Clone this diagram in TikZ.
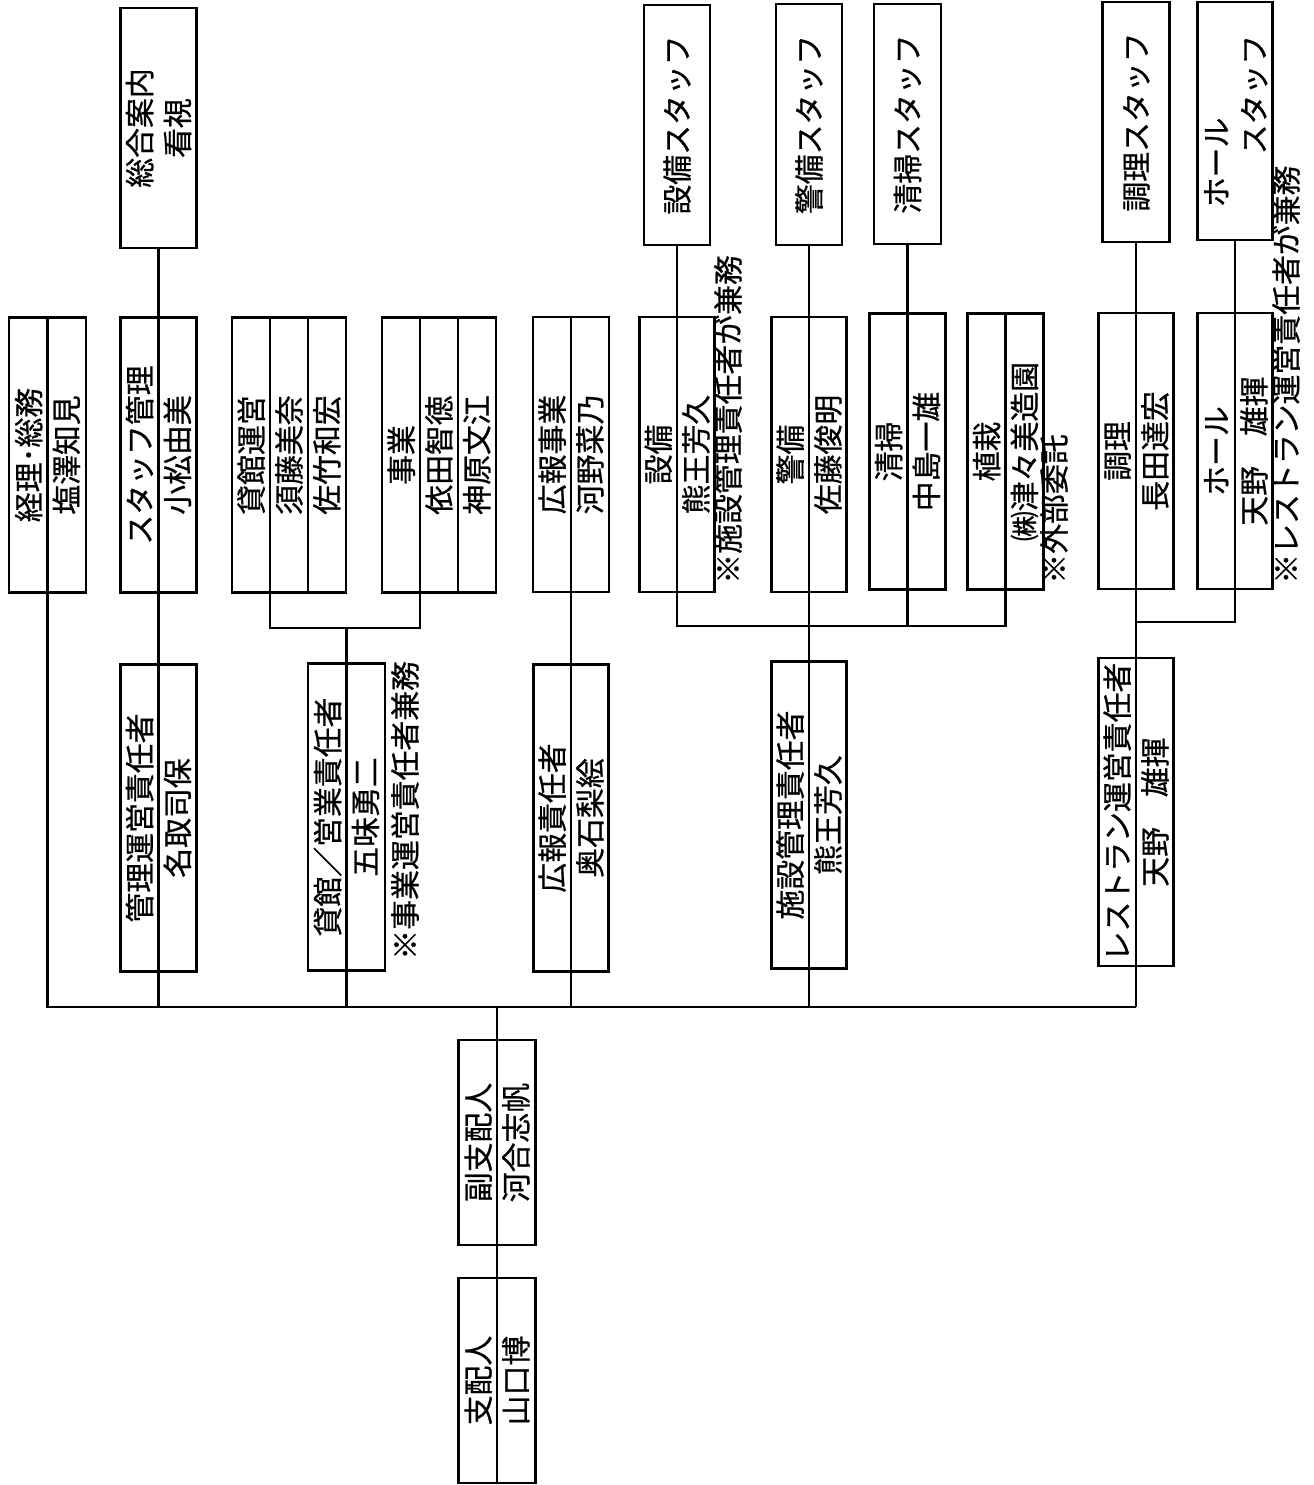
\documentclass[tikz,border=0pt]{standalone}
\usepackage{fontspec}
\setmainfont{Noto Sans CJK JP}[FakeBold=0.7]
\usepackage{graphicx}
\usepackage{array}
\usetikzlibrary{calc}

\newcommand{\tstrut}{\rule[-4.3pt]{0pt}{21.5pt}}
\newcommand{\tate}[2][c]{\rotatebox{90}{\renewcommand\arraystretch{0}%
    \begin{tabular}{@{}>{\tstrut}#1@{}}#2\end{tabular}}}

\begin{document}
\begin{tikzpicture}[x=0.02cm, y=-0.02cm,
    every node/.style={font=\fontsize{17}{21.5}\selectfont},
    box/.style 2 args={draw, line width=1.5pt, inner sep=0pt,
        minimum width=#1*0.02cm, minimum height=#2*0.02cm},
    note/.style={inner sep=0pt, anchor=south},
    conn/.style={line width=1.2pt}]
    \useasboundingbox (0,0) rectangle (1313,1485);

    % staff
    \node[box={75}{240}] (sogo) at (158.5,128) {\tate{総合案内\\看視}};
    \node[box={66}{240}] (setsubiSt) at (677,125) {\tate{設備スタッフ}};
    \node[box={66}{241}] (keibiSt) at (809,124.5) {\tate{警備スタッフ}};
    \node[box={67}{240}] (seisoSt) at (907.5,124) {\tate{清掃スタッフ}};
    \node[box={67}{240}] (choriSt) at (1136,122) {\tate{調理スタッフ}};
    \node[box={66}{238}] (hallSt) at (1235,121)
        {\tate[l]{ホール\\\hspace{1.77em}スタッフ\hspace{1.77em}}};

    % sections
    \node[box={77}{275}] (keiri) at (47.5,455) {\tate{経理･総務\\塩澤知見}};
    \node[box={75}{275}] (staffKanri) at (158.5,455) {\tate{スタッフ管理\\小松由美}};
    \node[box={114}{275}] (kashikan) at (289,455) {\tate{貸館運営\\須藤美奈\\佐竹和宏}};
    \node[box={114}{275}] (jigyo) at (439,455) {\tate{事業\\依田智徳\\神原文江}};
    \node[box={76}{275}] (kohoJigyo) at (571,454.5) {\tate{広報事業\\河野菜乃}};
    \node[box={66}{275}] (setsubi) at (677,454.5) {\tate{設備\\熊王芳久}};
    \node[box={66}{275}] (keibi) at (809,454.5) {\tate{警備\\佐藤俊明}};
    \node[box={67}{276}] (seiso) at (907.5,451.5) {\tate{清掃\\中島一雄}};
    \node[box={65}{276}] (shokusai) at (1005.5,451.5) {\tate{植栽\\㈱津々美造園}};
    \node[box={66}{276}] (chori) at (1136,451) {\tate{調理\\長田達宏}};
    \node[box={66}{276}] (hall) at (1235,451) {\tate{ホール\\天野　雄揮}};

    % managers
    \node[box={76}{307}] (kanriSekinin) at (158.5,818) {\tate{管理運営責任者\\名取司保}};
    \node[box={77}{307}] (kashiSekinin) at (346.5,817) {\tate{貸館／営業責任者\\五味勇二}};
    \node[box={75}{307}] (kohoSekinin) at (571,818) {\tate{広報責任者\\奥石梨絵}};
    \node[box={67}{307}] (shisetsuSekinin) at (809,815) {\tate{施設管理責任者\\熊王芳久}};
    \node[box={67}{308}] (restaurant) at (1136,812) {\tate{レストラン運営責任者\\天野　雄揮}};

    % top
    \node[box={77}{205}] (fuku) at (497,1142.5) {\tate{副支配人\\河合志帆}};
    \node[box={77}{205}] (shihainin) at (497,1380.5) {\tate{支配人\\山口博}};

    \node[note] (jigyoNote) at (405,960) {\tate{※事業運営責任者兼務}};
    \node[note] (setsubiNote) at (728,584) {\tate{※施設管理責任者が兼務}};
    \node[note] (shokusaiNote) at (1054,584) {\tate{※外部委託}};
    \node[note] (hallNote) at (1286,584) {\tate{※レストラン運営責任者が兼務}};

    \coordinate (trunk) at (497,1007);
    \coordinate (kashiBar) at (346.5,628);
    \coordinate (shisetsuBar) at (809,626);
    \coordinate (restBar) at (1136,622);

    \draw[conn] (keiri.north) -- (keiri.north |- trunk) -- (restaurant.center |- trunk);
    \draw[conn] (sogo.south) -- (sogo.south |- trunk);
    \foreach \b in {kashikan,jigyo}
        \foreach \f in {1/3,2/3}
            \draw[conn] ($(\b.north west)!\f!(\b.north east)$) -- ($(\b.south west)!\f!(\b.south east)$);
    \draw[conn] ($(kashikan.south west)!1/3!(kashikan.south east)$) |- (kashiBar)
        -| ($(jigyo.south west)!1/3!(jigyo.south east)$);
    \draw[conn] (kashiBar) -- (kashiBar |- trunk);
    \draw[conn] (kohoJigyo.north) -- (kohoJigyo.north |- trunk);
    \draw[conn] (setsubiSt.south) |- (shisetsuBar) -| (shokusai.north);
    \draw[conn] (keibiSt.south) -- (keibiSt.south |- trunk);
    \draw[conn] (seisoSt.south) -- (seisoSt.south |- shisetsuBar);
    \draw[conn] (choriSt.south) -- (choriSt.south |- trunk);
    \draw[conn] (hallSt.south) |- (restBar);
    \draw[conn] (trunk) -- (shihainin.south);
\end{tikzpicture}
\end{document}
